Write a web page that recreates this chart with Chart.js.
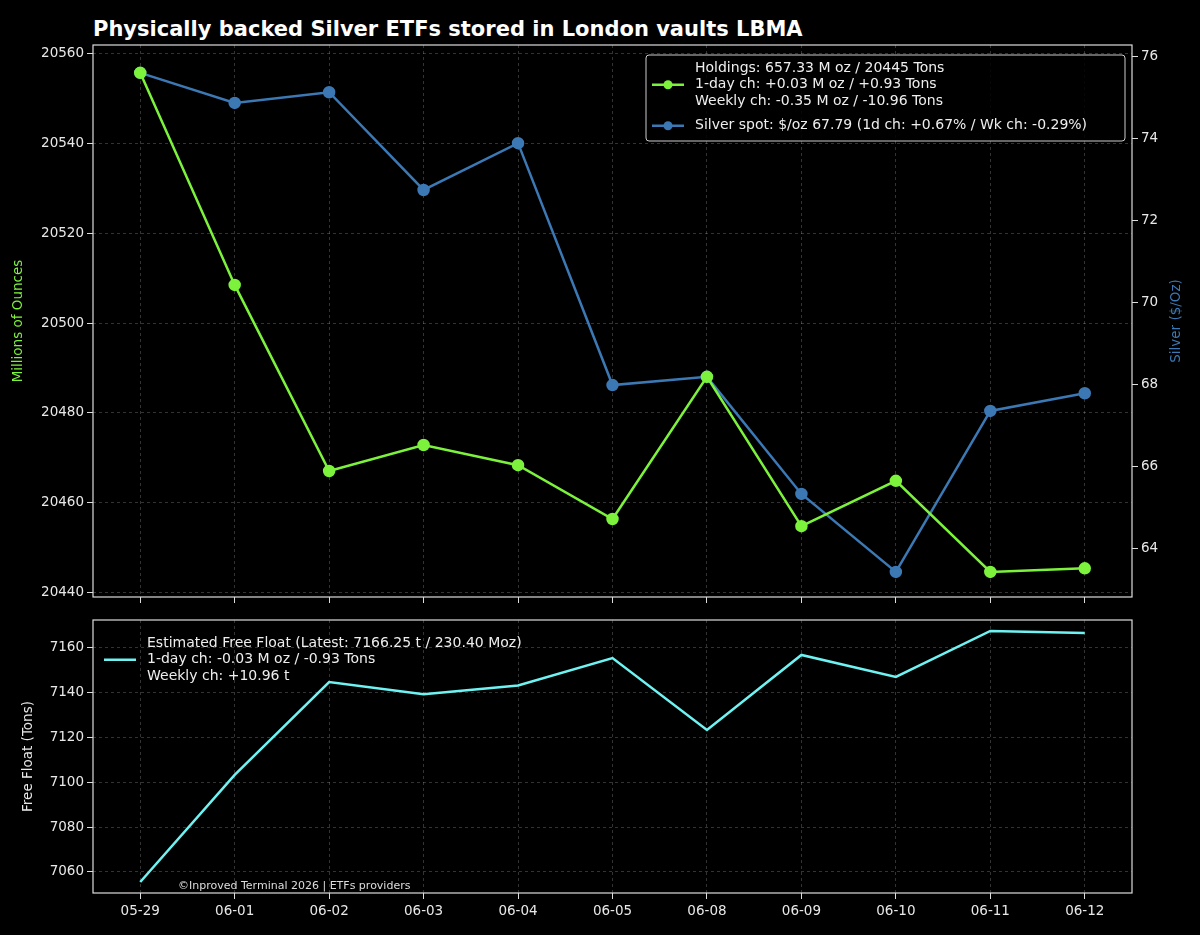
<!DOCTYPE html>
<html><head><meta charset="utf-8">
<script src="https://cdn.jsdelivr.net/npm/chart.js@4"></script>
<style>
body{margin:0;background:#000;width:1200px;height:935px;overflow:hidden;font-family:"DejaVu Sans",sans-serif;position:relative}
#t{position:absolute;left:93px;top:17px;color:#fff;font-weight:bold;font-size:21px}
#c1{position:absolute;left:0;top:0}
#c2{position:absolute;left:0;top:605px}
#cp{position:absolute;left:178px;top:879px;color:#ddd;font-size:11px}
</style></head><body>
<div id="t">Physically backed Silver ETFs stored in London vaults LBMA</div>
<canvas id="c1" width="1200" height="610"></canvas>
<canvas id="c2" width="1200" height="330"></canvas>
<div id="cp">©Inproved Terminal 2026 | ETFs providers</div>
<script>
const categories=["05-29","06-01","06-02","06-03","06-04","06-05","06-08","06-09","06-10","06-11","06-12"];
const holdings=[20555.8,20508.5,20467.0,20472.8,20468.3,20456.3,20488.0,20454.7,20464.8,20444.5,20445.3];
const silver=[75.59,74.86,75.12,72.74,73.88,67.99,68.19,65.34,63.44,67.36,67.79];
const freeFloat=[7055.5,7103.3,7144.8,7139.3,7143.3,7155.5,7123.4,7156.9,7147.1,7167.6,7166.7];
const legend1=[{color:"#7cf23c",lines:["Holdings: 657.33 M oz / 20445 Tons","1-day ch: +0.03 M oz / +0.93 Tons","Weekly ch: -0.35 M oz / -10.96 Tons"]},
 {color:"#3b78b4",lines:["Silver spot: $/oz 67.79 (1d ch: +0.67% / Wk ch: -0.29%)"]}];
const legend2=[{color:"#6ff2f2",lines:["Estimated Free Float (Latest: 7166.25 t / 230.40 Moz)","1-day ch: -0.03 M oz / -0.93 Tons","Weekly ch: +10.96 t"]}];
Chart.defaults.font.family='"DejaVu Sans",sans-serif';
Chart.defaults.font.size=13.5;
Chart.defaults.color='#e8e8e8';
const grid={color:'rgba(255,255,255,0.2)',tickColor:'#ddd',tickLength:6,drawTicks:true};
const bord={display:false,dash:[3,3]};
function stepTicks(step){return function(s){const t=[];for(let v=Math.ceil(s.min/step)*step;v<=s.max+1e-9;v+=step)t.push({value:Math.round(v*1000)/1000});s.ticks=t;};}
const plain=v=>String(v);
function legendPlugin(items,box,pointMarker){return{id:'lg',afterDraw(c){const x=c.ctx;const a=c.chartArea;x.save();
 let lines=items.reduce((s,i)=>s+i.lines.length,0);
 const lh=16.5,gap=items.length>1?8:0;const h=lines*lh+gap+12;const w=box.w;const bx=box.right?a.right-w-7:a.left+5;const by=a.top+10;
 if(box.border){x.fillStyle='rgba(0,0,0,0.85)';x.strokeStyle='#ccc';x.lineWidth=1;x.beginPath();x.roundRect(bx,by,w,h,3);x.fill();x.stroke();}
 x.font='14px "DejaVu Sans"';x.textBaseline='middle';let y=by+5;
 for(const it of items){const n=it.lines.length;const cy=y+n*lh/2;
  x.strokeStyle=it.color;x.lineWidth=2.5;x.beginPath();x.moveTo(bx+6,cy);x.lineTo(bx+38,cy);x.stroke();
  if(pointMarker){x.fillStyle=it.color;x.beginPath();x.arc(bx+22,cy,4.5,0,7);x.fill();}
  x.fillStyle='#eee';it.lines.forEach((l,i)=>x.fillText(l,bx+49,y+lh*i+lh/2));y+=n*lh+gap;}
 x.restore();}}}
function vtitle(x,y,text,color){return function(ctx){ctx.save();ctx.translate(x,y);ctx.rotate(-Math.PI/2);ctx.fillStyle=color;ctx.font='13.5px "DejaVu Sans"';ctx.textAlign='center';ctx.textBaseline='middle';ctx.fillText(text,0,0);ctx.restore();}}
const frame={id:'fr',afterDraw(c){const a=c.chartArea;const x=c.ctx;x.save();x.strokeStyle='#ddd';x.lineWidth=1.2;x.strokeRect(a.left,a.top,a.right-a.left,a.bottom-a.top);x.restore();
 const m=(a.top+a.bottom)/2;
 if(c.canvas.id==='c1'){vtitle(1176,m,'Silver ($/Oz)','#3b78b4')(x);vtitle(18,m,'Millions of Ounces','#7cf23c')(x);}
 else vtitle(28,m,'Free Float (Tons)','#e8e8e8')(x);}};
new Chart(document.getElementById('c1'),{type:'line',
 data:{labels:categories,datasets:[
  {data:holdings,borderColor:'#7cf23c',backgroundColor:'#7cf23c',borderWidth:2.5,pointRadius:5,yAxisID:'y',tension:0},
  {data:silver,borderColor:'#3b78b4',backgroundColor:'#3b78b4',borderWidth:2.5,pointRadius:5,yAxisID:'y1',tension:0}]},
 options:{responsive:false,animation:false,layout:{padding:{top:45,bottom:0}},
  plugins:{legend:{display:false},tooltip:{enabled:false}},
  scales:{
   x:{offset:true,grid:{...grid,offset:false},ticks:{display:false},border:bord,afterFit(s){s.height=13}},
   y:{min:20438.9,max:20562,ticks:{color:'#e8e8e8',callback:plain},afterBuildTicks:stepTicks(20),grid:grid,border:bord,afterFit(s){s.width=93}},
   y1:{position:'right',min:62.83,max:76.27,ticks:{color:'#e8e8e8',callback:plain},afterBuildTicks:stepTicks(2),grid:{drawOnChartArea:false,tickColor:'#ddd',tickLength:6},border:{display:false},
      afterFit(s){s.width=68}}}},
 plugins:[frame,legendPlugin(legend1,{w:479,right:true,border:true},true)]});
new Chart(document.getElementById('c2'),{type:'line',
 data:{labels:categories,datasets:[{data:freeFloat,borderColor:'#6ff2f2',borderWidth:2.5,pointRadius:0,tension:0}]},
 options:{responsive:false,animation:false,layout:{padding:{top:15,right:68}},
  plugins:{legend:{display:false},tooltip:{enabled:false}},
  scales:{
   x:{offset:true,grid:{...grid,offset:false},ticks:{color:'#e8e8e8',padding:4},border:bord,afterFit(s){s.height=42}},
   y:{min:7050.6,max:7172.5,ticks:{color:'#e8e8e8',callback:plain},afterBuildTicks:stepTicks(20),grid:grid,border:bord,afterFit(s){s.width=93}}}},
 plugins:[frame,legendPlugin(legend2,{w:470,right:false,border:false},false)]});
</script></body></html>
